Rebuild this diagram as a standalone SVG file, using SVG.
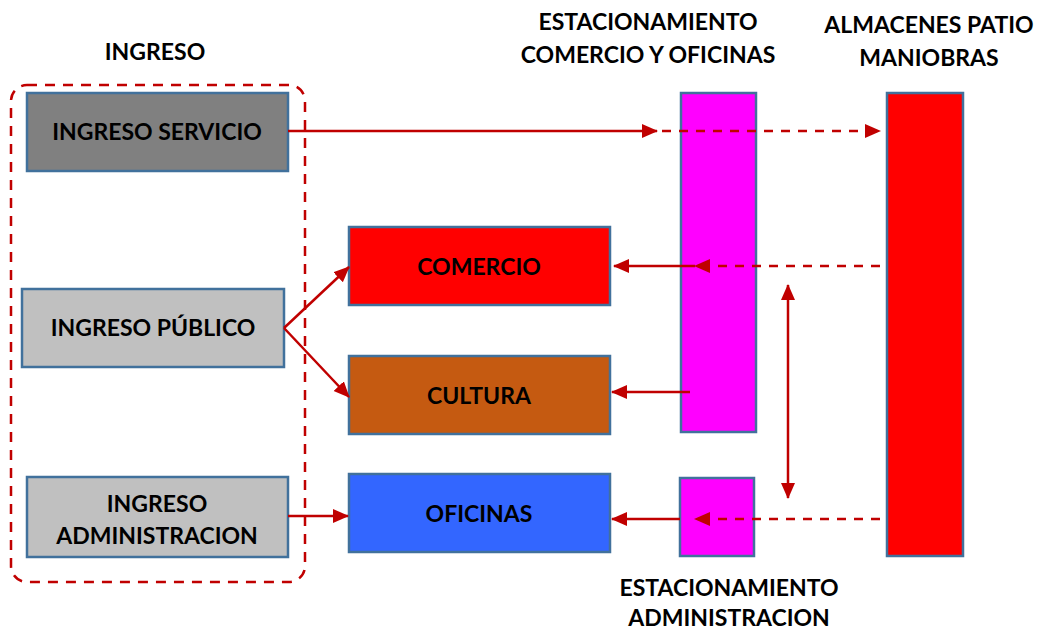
<svg xmlns="http://www.w3.org/2000/svg" width="1039" height="632" viewBox="0 0 1039 632">
<style>
.box{stroke:#41719c;stroke-width:2.5}
.t{font-family:Lato,"Open Sans",sans-serif;font-weight:bold;font-size:23px;fill:#000;text-anchor:middle}
.c{stroke:#c00000;stroke-width:2.5;fill:none}
.d{stroke-dasharray:9,8}
</style>
<defs>
<marker id="ahL" markerWidth="16" markerHeight="16" refX="15" refY="8" orient="auto-start-reverse" markerUnits="userSpaceOnUse" viewBox="0 0 16 16">
<path d="M0,1 L16,8 L0,15 z" fill="#c00000"/>
</marker>
</defs>
<rect width="1039" height="632" fill="#fff"/>
<g id="labels">
<text class="t" x="155" y="60">INGRESO</text>
<text class="t" x="648" y="30">ESTACIONAMIENTO</text>
<text class="t" x="648" y="63">COMERCIO Y OFICINAS</text>
<text class="t" x="929" y="33">ALMACENES PATIO</text>
<text class="t" x="929" y="66">MANIOBRAS</text>
<text class="t" x="729" y="596">ESTACIONAMIENTO</text>
<text class="t" x="729" y="626">ADMINISTRACION</text>
</g>
<g id="grupo-ingreso">
<rect x="11" y="85" width="294" height="497" rx="16" fill="none" stroke="#c00000" stroke-width="2.5" stroke-dasharray="10,8"/>
</g>
<g id="ingreso-servicio"><rect class="box" x="27" y="93" width="261" height="78" fill="#808080"/><text class="t" x="157" y="140">INGRESO SERVICIO</text></g>
<g id="ingreso-publico"><rect class="box" x="22" y="289" width="262" height="78" fill="#c0c0c0"/><text class="t" x="153" y="336">INGRESO PÚBLICO</text></g>
<g id="ingreso-admin"><rect class="box" x="27" y="477" width="261" height="80" fill="#c0c0c0"/><text class="t" x="157" y="512">INGRESO</text><text class="t" x="157" y="544">ADMINISTRACION</text></g>
<g id="comercio"><rect class="box" x="349" y="227" width="261" height="78" fill="#ff0000"/><text class="t" x="479" y="275">COMERCIO</text></g>
<g id="cultura"><rect class="box" x="349" y="356" width="261" height="78" fill="#c55a11"/><text class="t" x="479" y="404">CULTURA</text></g>
<g id="oficinas"><rect class="box" x="349" y="474" width="261" height="78" fill="#3366ff"/><text class="t" x="479" y="522">OFICINAS</text></g>
<g id="est-comercio"><rect class="box" x="681" y="93" width="75" height="339" fill="#ff00ff"/></g>
<g id="est-admin"><rect class="box" x="680" y="478" width="74" height="78" fill="#ff00ff"/></g>
<g id="almacenes"><rect class="box" x="887" y="93" width="76" height="463" fill="#ff0000"/></g>
<g id="connectors">
<line class="c" x1="288" y1="131" x2="657" y2="131" marker-end="url(#ahL)"/>
<line class="c d" x1="662" y1="131" x2="880" y2="131" marker-end="url(#ahL)"/>
<line class="c d" x1="880" y1="266" x2="695" y2="266" marker-end="url(#ahL)"/>
<line class="c" x1="695" y1="266" x2="614" y2="266" marker-end="url(#ahL)"/>
<line class="c" x1="690" y1="392" x2="612" y2="392" marker-end="url(#ahL)"/>
<line class="c" x1="680" y1="519" x2="612" y2="519" marker-end="url(#ahL)"/>
<line class="c d" x1="880" y1="519" x2="695" y2="519" marker-end="url(#ahL)"/>
<line class="c" x1="788" y1="285" x2="788" y2="498" marker-start="url(#ahL)" marker-end="url(#ahL)"/>
<line class="c" x1="288" y1="516" x2="348" y2="516" marker-end="url(#ahL)"/>
<line class="c" x1="284" y1="328" x2="349" y2="267" marker-end="url(#ahL)"/>
<line class="c" x1="284" y1="328" x2="349" y2="397" marker-end="url(#ahL)"/>
</g>
</svg>
